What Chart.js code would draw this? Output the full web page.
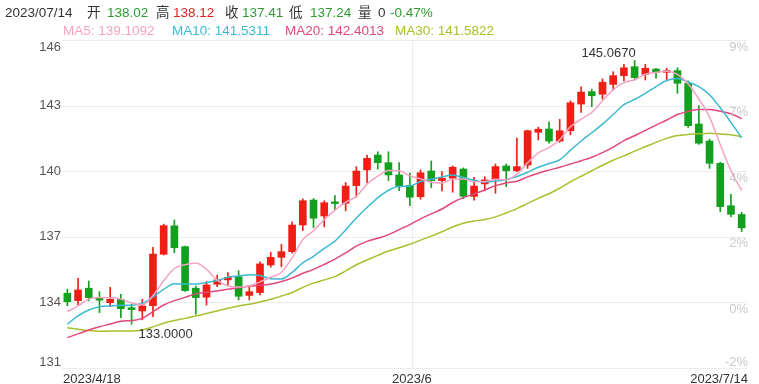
<!DOCTYPE html>
<html>
<head>
<meta charset="utf-8">
<script src="https://cdn.jsdelivr.net/npm/chart.js@4.4.0/dist/chart.umd.min.js"></script>
<style>
  body { margin: 0; background: #fff; }
  #wrap { position: relative; width: 759px; height: 384px; font-family: "Liberation Sans", Arial, "Noto Sans CJK SC", sans-serif; }
  #kline { position: absolute; left: 0; top: 0; }
  .t { position: absolute; font-size: 13.5px; line-height: 13.5px; white-space: nowrap; color: #333; }
  .up { color: #dd2222; }
  .dn { color: #2f9a2f; }
</style>
</head>
<body>
<div id="wrap">
  <canvas id="kline" width="759" height="384"></canvas>
  <div class="t" style="left:5px;top:6px">2023/07/14</div>
  <div class="t" style="left:87px;top:6px">开</div>
  <div class="t dn" style="left:107px;top:6px">138.02</div>
  <div class="t" style="left:156px;top:6px">高</div>
  <div class="t up" style="left:173px;top:6px">138.12</div>
  <div class="t" style="left:225px;top:6px">收</div>
  <div class="t dn" style="left:242px;top:6px">137.41</div>
  <div class="t" style="left:289px;top:6px">低</div>
  <div class="t dn" style="left:310px;top:6px">137.24</div>
  <div class="t" style="left:358px;top:6px">量</div>
  <div class="t" style="left:378px;top:6px">0</div>
  <div class="t dn" style="left:390px;top:6px">-0.47%</div>
  <div class="t" style="left:63px;top:24px;color:#f4a3c3">MA5: 139.1092</div>
  <div class="t" style="left:172px;top:24px;color:#3bbad2">MA10: 141.5311</div>
  <div class="t" style="left:285px;top:24px;color:#e2477d">MA20: 142.4013</div>
  <div class="t" style="left:395px;top:24px;color:#a6c02e">MA30: 141.5822</div>
</div>
<script>
// trading days (weekdays) 2023/4/18 - 2023/7/14
const dates = [
  '2023/4/18','2023/4/19','2023/4/20','2023/4/21','2023/4/24','2023/4/25','2023/4/26','2023/4/27','2023/4/28',
  '2023/5/1','2023/5/2','2023/5/3','2023/5/4','2023/5/5','2023/5/8','2023/5/9','2023/5/10','2023/5/11','2023/5/12',
  '2023/5/15','2023/5/16','2023/5/17','2023/5/18','2023/5/19','2023/5/22','2023/5/23','2023/5/24','2023/5/25','2023/5/26',
  '2023/5/29','2023/5/30','2023/5/31',
  '2023/6/1','2023/6/2','2023/6/5','2023/6/6','2023/6/7','2023/6/8','2023/6/9','2023/6/12','2023/6/13','2023/6/14',
  '2023/6/15','2023/6/16','2023/6/19','2023/6/20','2023/6/21','2023/6/22','2023/6/23','2023/6/26','2023/6/27','2023/6/28',
  '2023/6/29','2023/6/30',
  '2023/7/3','2023/7/4','2023/7/5','2023/7/6','2023/7/7','2023/7/10','2023/7/11','2023/7/12','2023/7/13','2023/7/14'
];

const opens = [
  134.42,134.08,134.65,134.22,133.99,134.14,133.76,133.61,133.85,136.20,137.50,136.55,134.65,134.24,134.83,135.03,
  135.18,134.32,134.45,135.71,136.06,136.32,137.54,138.68,137.95,138.60,138.53,139.34,140.06,140.74,140.39,139.83,
  139.34,138.83,140.01,139.57,139.68,140.10,138.85,139.42,139.64,140.24,140.02,140.28,141.78,141.93,141.38,141.85,
  143.07,143.64,143.52,143.97,144.37,144.78,144.43,144.67,144.52,144.60,144.02,142.16,141.38,140.36,138.42,138.02
];
const highs = [
  134.61,135.10,134.98,134.49,134.69,134.37,133.92,134.14,136.52,137.58,137.77,136.58,134.75,134.95,135.25,135.36,
  135.45,134.72,135.86,136.29,136.66,137.69,138.73,138.75,138.65,138.88,139.48,140.21,140.74,140.89,140.89,140.39,
  139.91,140.06,140.47,139.98,140.24,140.15,139.72,139.75,140.33,140.33,141.51,141.88,142.01,142.26,142.37,143.22,
  143.86,143.75,144.22,144.55,144.89,145.067,144.89,144.71,144.71,144.73,144.13,143.00,141.47,140.41,138.94,138.12
];
const lows = [
  133.85,133.88,134.08,133.53,133.80,133.30,133.00,133.20,133.35,136.17,136.27,134.50,133.46,133.88,134.72,134.80,
  134.11,134.11,134.34,135.61,135.63,136.25,137.28,137.42,137.46,138.23,138.19,138.81,139.48,140.09,139.57,139.11,
  138.42,138.72,139.25,139.10,139.04,138.74,138.68,139.10,138.99,139.29,139.98,140.13,141.43,141.28,141.32,141.66,
  142.69,142.95,143.29,143.71,144.13,144.17,144.17,144.25,144.13,143.56,142.00,141.23,140.13,138.15,137.92,137.24
];
const closes = [
  134.03,134.57,134.22,134.10,134.14,133.71,133.67,133.84,136.21,137.51,136.50,134.54,134.22,134.80,135.03,135.15,
  134.28,134.49,135.76,136.06,136.32,137.54,138.65,137.85,138.56,138.52,139.32,140.01,140.59,140.39,139.83,139.29,
  138.81,139.93,139.57,139.68,140.18,138.85,139.32,139.60,140.21,140.02,140.21,141.85,141.92,141.38,141.85,143.13,
  143.62,143.45,144.07,144.37,144.73,144.28,144.71,144.52,144.60,144.02,142.08,141.28,140.36,138.38,138.03,137.41
];

const ma5 = [
  133.58,133.84,134.15,134.22,134.21,134.15,133.97,133.89,134.31,134.99,135.55,135.72,135.80,135.51,135.02,134.75,
  134.70,134.75,134.94,135.15,135.38,136.03,136.87,137.28,137.78,138.22,138.58,138.85,139.40,139.77,140.03,140.02,
  139.78,139.65,139.49,139.46,139.63,139.64,139.52,139.53,139.63,139.60,139.87,140.38,140.84,141.08,141.44,142.03,
  142.38,142.69,143.22,143.73,144.05,144.18,144.43,144.52,144.57,144.43,143.99,143.30,142.47,141.22,140.03,139.11
];
const ma10 = [
  133.01,133.38,133.65,133.80,133.84,133.87,133.87,133.96,134.25,134.60,134.85,134.84,134.84,134.91,135.00,135.15,
  135.21,135.27,135.23,135.08,135.07,135.37,135.81,136.11,136.47,136.80,137.31,137.86,138.34,138.78,139.13,139.30,
  139.32,139.53,139.63,139.74,139.83,139.71,139.59,139.51,139.54,139.62,139.76,139.95,140.18,140.35,140.52,140.95,
  141.38,141.76,142.15,142.59,143.04,143.28,143.56,143.87,144.15,144.24,144.08,143.87,143.50,142.90,142.23,141.53
];
const ma20 = [
  132.39,132.56,132.74,132.89,133.01,133.14,133.17,133.27,133.58,133.88,134.08,134.23,134.39,134.46,134.52,134.60,
  134.67,134.75,134.78,134.84,134.96,135.11,135.33,135.51,135.74,135.98,136.26,136.57,136.79,136.93,137.10,137.33,
  137.56,137.82,138.05,138.27,138.57,138.79,138.96,139.14,139.34,139.46,139.54,139.74,139.91,140.05,140.18,140.33,
  140.48,140.64,140.85,141.10,141.40,141.62,141.87,142.11,142.34,142.59,142.73,142.82,142.82,142.74,142.63,142.40
];
const ma30 = [
  132.84,132.77,132.71,132.68,132.69,132.69,132.69,132.74,132.88,133.05,133.17,133.27,133.38,133.49,133.61,133.73,
  133.84,133.92,134.02,134.14,134.29,134.45,134.69,134.88,135.03,135.18,135.44,135.72,135.94,136.15,136.35,136.50,
  136.66,136.85,137.03,137.23,137.45,137.62,137.72,137.79,137.91,138.09,138.29,138.53,138.76,138.97,139.22,139.51,
  139.77,140.02,140.27,140.50,140.70,140.92,141.12,141.32,141.50,141.63,141.68,141.71,141.73,141.70,141.67,141.58
];

const yTicks = [146, 143, 140, 137, 134, 131];
const pctLabels = ['9%', '7%', '4%', '2%', '0%', '-2%'];
const xLabels = ['2023/4/18', '2023/6', '2023/7/14'];
const xGridDate = '2023/6/1';

const RED = '#f01e14';
const GREEN = '#12a01e';
const candleColors = closes.map((c, i) => c >= opens[i] ? RED : GREEN);

const axisPlugin = {
  id: 'axisPlugin',
  beforeDatasetsDraw(chart) {
    const { ctx, chartArea: a, scales: { x, y } } = chart;
    ctx.save();
    ctx.strokeStyle = '#ececec';
    ctx.lineWidth = 1;
    yTicks.forEach(t => {
      const py = Math.round(y.getPixelForValue(t)) + 0.5;
      ctx.beginPath();
      ctx.moveTo(a.left, py);
      ctx.lineTo(a.right, py);
      ctx.stroke();
    });
    const gx = Math.round(x.getPixelForValue(dates.indexOf(xGridDate))) + 2.5;
    ctx.beginPath();
    ctx.moveTo(gx, a.top);
    ctx.lineTo(gx, a.bottom);
    ctx.stroke();
    ctx.restore();
  },
  afterDatasetsDraw(chart) {
    const { ctx, chartArea: a, scales: { x, y } } = chart;
    const last = yTicks.length - 1;
    ctx.save();
    ctx.font = '13px "Liberation Sans", Arial, sans-serif';
    ctx.textBaseline = 'middle';

    // left price labels
    ctx.fillStyle = '#555';
    ctx.textAlign = 'right';
    yTicks.forEach((t, i) => {
      const off = i === 0 ? 7 : (i === last ? -6 : 0);
      ctx.fillText(String(t), a.left - 1, y.getPixelForValue(t) + off);
    });

    // right percent labels
    ctx.fillStyle = '#c9c9c9';
    yTicks.forEach((t, i) => {
      const off = i === last ? -6 : 7;
      ctx.fillText(pctLabels[i], a.right + 1, y.getPixelForValue(t) + off);
    });

    // date labels
    ctx.fillStyle = '#333';
    const by = a.bottom + 11;
    ctx.textAlign = 'left';
    ctx.fillText(xLabels[0], a.left + 1, by);
    ctx.textAlign = 'center';
    ctx.fillText(xLabels[1], x.getPixelForValue(dates.indexOf(xGridDate)) + 2, by);
    ctx.textAlign = 'right';
    ctx.fillText(xLabels[2], a.right + 1, by);

    // max / min marks
    const hi = Math.max(...highs);
    const hiIdx = highs.indexOf(hi);
    const lo = Math.min(...lows);
    const loIdx = lows.indexOf(lo);
    ctx.textBaseline = 'alphabetic';
    ctx.textAlign = 'right';
    ctx.fillText(hi.toFixed(4), x.getPixelForValue(hiIdx) + 1, y.getPixelForValue(hi) - 3);
    ctx.textAlign = 'left';
    ctx.fillText(lo.toFixed(4), x.getPixelForValue(loIdx) + 7, y.getPixelForValue(lo) + 14);
    ctx.restore();
  }
};

function maSet(label, data, color) {
  return {
    type: 'line',
    label: label,
    data: data,
    borderColor: color,
    borderWidth: 1.5,
    pointRadius: 0,
    cubicInterpolationMode: 'monotone',
    fill: false,
    order: 0
  };
}

new Chart(document.getElementById('kline'), {
  type: 'bar',
  data: {
    labels: dates,
    datasets: [
      maSet('MA5', ma5, '#f4a3c3'),
      maSet('MA10', ma10, '#3bbad2'),
      maSet('MA20', ma20, '#e2477d'),
      maSet('MA30', ma30, '#a6c02e'),
      {
        label: 'body',
        data: opens.map((o, i) => [o, closes[i]]),
        backgroundColor: candleColors,
        barThickness: 7,
        minBarLength: 1,
        grouped: false,
        order: 1
      },
      {
        label: 'wick',
        data: lows.map((l, i) => [l, highs[i]]),
        backgroundColor: candleColors,
        barThickness: 1,
        grouped: false,
        order: 2
      }
    ]
  },
  options: {
    responsive: false,
    animation: false,
    devicePixelRatio: 1,
    layout: { padding: { left: 62, right: 12, top: 40, bottom: 16 } },
    plugins: { legend: { display: false }, tooltip: { enabled: false } },
    scales: {
      x: { display: false, offset: true },
      y: { display: false, min: 131, max: 146 }
    }
  },
  plugins: [axisPlugin]
});
</script>
</body>
</html>
